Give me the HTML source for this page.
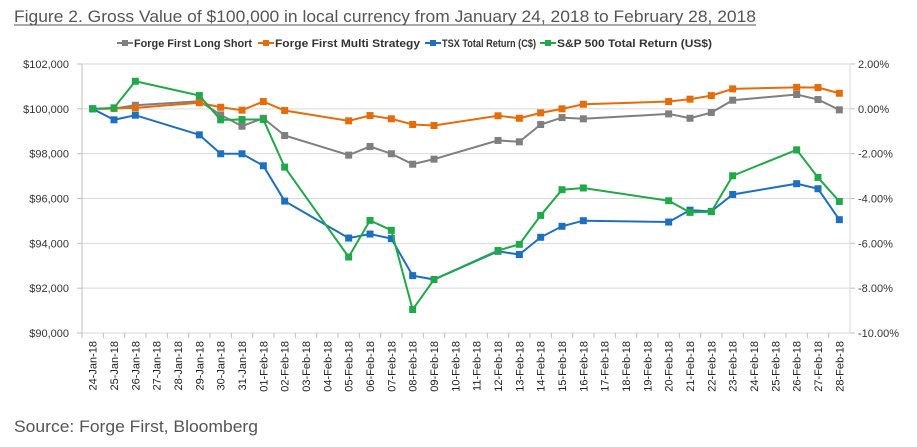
<!DOCTYPE html>
<html><head><meta charset="utf-8"><style>
body{margin:0;background:#fff;width:917px;height:442px;overflow:hidden;font-family:"Liberation Sans",sans-serif}
</style></head><body>
<svg width="917" height="442" id="c" xmlns="http://www.w3.org/2000/svg">
<text x="14" y="22" font-size="17" fill="#555" textLength="742" lengthAdjust="spacingAndGlyphs">Figure 2. Gross Value of $100,000 in local currency from January 24, 2018 to February 28, 2018</text>
<line x1="14" y1="25" x2="756" y2="25" stroke="#555" stroke-width="1"/>
<text x="14" y="432" font-size="17" fill="#555" textLength="244" lengthAdjust="spacingAndGlyphs">Source: Forge First, Bloomberg</text>
<g id="grid"></g><g id="axes"></g><g id="series"></g><g id="legend"></g>
</svg>
<script>
const dates=["24-Jan-18","25-Jan-18","26-Jan-18","27-Jan-18","28-Jan-18","29-Jan-18","30-Jan-18","31-Jan-18","01-Feb-18","02-Feb-18","03-Feb-18","04-Feb-18","05-Feb-18","06-Feb-18","07-Feb-18","08-Feb-18","09-Feb-18","10-Feb-18","11-Feb-18","12-Feb-18","13-Feb-18","14-Feb-18","15-Feb-18","16-Feb-18","17-Feb-18","18-Feb-18","19-Feb-18","20-Feb-18","21-Feb-18","22-Feb-18","23-Feb-18","24-Feb-18","25-Feb-18","26-Feb-18","27-Feb-18","28-Feb-18"];
const tradeIdx=[0,1,2,5,6,7,8,9,12,13,14,15,16,19,20,21,22,23,27,28,29,30,33,34,35];
const longShort=[100000,100010,100160,100340,99730,99225,99580,98810,97935,98320,97995,97530,97755,98590,98530,99300,99610,99555,99775,99580,99835,100385,100640,100415,99955];
const multiStrat=[100000,100015,100045,100270,100070,99940,100325,99925,99465,99700,99555,99300,99255,99690,99580,99820,100000,100205,100325,100430,100590,100890,100960,100950,100695];
const tsx=[100000,99510,99715,98840,97995,97995,97460,95885,94235,94415,94210,92560,92385,93645,93500,94270,94760,95010,94950,95480,95425,96180,96660,96435,95055];
const sp=[100000,100045,101230,100593,99510,99523,99523,97400,93390,95024,94580,91047,92384,93680,93955,95245,96392,96470,95900,95380,95410,97015,98170,96940,95870];
const leftTicks=[90000,92000,94000,96000,98000,100000,102000];
const rightTicks=["-10.00%","-8.00%","-6.00%","-4.00%","-2.00%","0.00%","2.00%"];
const seriesNames=["Forge First Long Short","Forge First Multi Strategy","TSX Total Return (C$)","S&P 500 Total Return (US$)"];
const NS="http://www.w3.org/2000/svg";
const L=82,R=850,T=64,B=333,vMin=90000,vMax=102000;
const bw=(R-L)/dates.length;
const x=i=>L+bw*(i+0.5);
const y=v=>B-(v-vMin)/(vMax-vMin)*(B-T);
function mk(t,a,p){const e=document.createElementNS(NS,t);for(const k in a)e.setAttribute(k,a[k]);p.appendChild(e);return e;}
const grid=document.getElementById('grid'),axes=document.getElementById('axes'),ser=document.getElementById('series'),leg=document.getElementById('legend');
leftTicks.forEach((v,i)=>{
 const g=mk('line',{x1:L,x2:R,y1:y(v),y2:y(v),stroke:'#d9d9d9','stroke-width':1},grid);
 
 
 const t=mk('text',{x:69,y:y(v)+4,'font-size':11,fill:'#333','text-anchor':'end'},axes);t.textContent='$'+v.toLocaleString('en-US');
 
 
 const t2=mk('text',{x:858,y:y(v)+4,'font-size':11,fill:'#333'},axes);t2.textContent=rightTicks[i];
 
 
 mk('line',{x1:L-5,x2:L,y1:y(v),y2:y(v),stroke:'#bfbfbf'},axes);
 mk('line',{x1:R,x2:R+5,y1:y(v),y2:y(v),stroke:'#bfbfbf'},axes);
});
mk('line',{x1:L,x2:L,y1:T,y2:B,stroke:'#bfbfbf'},axes);
mk('line',{x1:R,x2:R,y1:T,y2:B,stroke:'#d9d9d9'},axes);
dates.forEach((d,i)=>{
 mk('line',{x1:L+bw*i,x2:L+bw*i,y1:B,y2:B+5,stroke:'#bfbfbf'},axes);
 const t=mk('text',{x:0,y:0,'font-size':11,fill:'#222','text-anchor':'end',transform:`translate(${x(i)+4},341) rotate(-90)`},axes);t.textContent=d;
 
 
});
const colors=['#7f7f7f','#e46c0a','#1f6fbf','#21a84a'];
[longShort,multiStrat,tsx,sp].forEach((arr,s)=>{
 const pts=arr.map((v,k)=>x(tradeIdx[k])+','+y(v)).join(' ');
 const pl=mk('polyline',{points:pts,fill:'none',stroke:colors[s],'stroke-width':2},ser);
 
 
 arr.forEach((v,k)=>{
  const r=mk('rect',{x:x(tradeIdx[k])-3.5,y:y(v)-3.5,width:7,height:7,fill:colors[s]},ser);
  
  
 });
});
const legX=[117,258,425,540];
const legW=[118,145,94,155];
seriesNames.forEach((n,s)=>{
 const g=mk('g',{},leg);
 
 
 mk('line',{x1:legX[s],x2:legX[s]+16,y1:43,y2:43,stroke:colors[s],'stroke-width':2},g);
 mk('rect',{x:legX[s]+5,y:40,width:6,height:6,fill:colors[s]},g);
 const t=mk('text',{x:legX[s]+17,y:47,'font-size':11,'font-weight':'bold',fill:'#333',textLength:legW[s],lengthAdjust:'spacingAndGlyphs'},g);t.textContent=n;
});
</script>
</body></html>
